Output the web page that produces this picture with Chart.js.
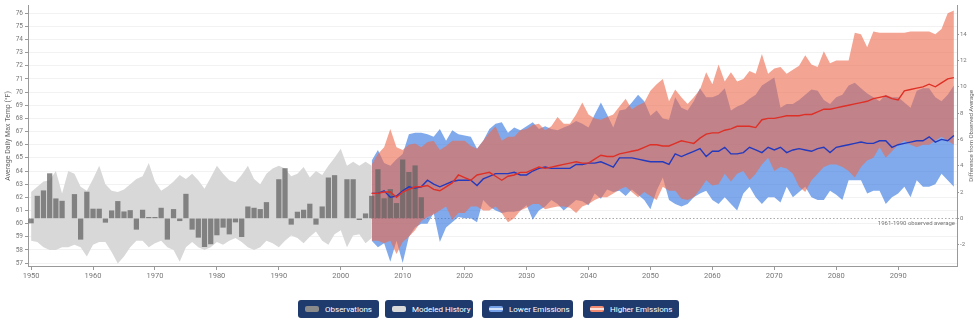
<!DOCTYPE html>
<html><head><meta charset="utf-8">
<script src="https://cdn.jsdelivr.net/npm/chart.js@4.4.1/dist/chart.umd.min.js"></script>
<style>
html,body{margin:0;padding:0;background:#fff;width:975px;height:325px;overflow:hidden;font-family:Roboto,"Liberation Sans",sans-serif;}
#wrap{position:absolute;left:0;top:0;width:975px;height:290px;}
.lg{position:absolute;top:300px;height:18px;background:#1f3a6c;border-radius:3px;display:flex;align-items:center;padding:0 6px 0 7px;color:#fff;font-size:8px;box-sizing:border-box;white-space:nowrap;}
.sw{width:14px;height:6px;border-radius:2px;margin-right:6px;flex:none;}
</style></head>
<body>
<div id="wrap"><canvas id="c" width="975" height="290"></canvas></div>
<div class="lg" style="left:298px;width:81px"><span class="sw" style="background:#8a8a8a"></span>Observations</div>
<div class="lg" style="left:385px;width:88px"><span class="sw" style="background:#d9d9d9"></span>Modeled History</div>
<div class="lg" style="left:482px;width:91px"><span class="sw" style="background:linear-gradient(to bottom,#74a0e8 0 35%,#d4e2fa 35% 65%,#74a0e8 65%)"></span>Lower Emissions</div>
<div class="lg" style="left:583px;width:96px"><span class="sw" style="background:linear-gradient(to bottom,#f08a70 0 35%,#fde0d6 35% 65%,#f08a70 65%)"></span>Higher Emissions</div>
<script>
// ---------- data ----------
const HIST_START = 1950;      // observations & modeled history start year
const FUTURE_START = 2005;    // projections start year
const OBS_AVG = 60.4;         // 1961-1990 observed average (°F)

// observed difference from 1961-1990 average (°F), 1950-2013
const obsDiff = [-0.35,1.69,2.1,3.4,1.49,1.31,null,1.82,-1.59,2.0,
  0.71,0.71,-0.3,0.58,1.29,0.5,0.6,-0.83,0.63,0.08,
  0.08,0.78,-1.59,0.68,-0.18,1.84,-0.83,-1.44,-2.15,-1.94,
  -1.26,-0.68,-1.19,-0.28,-1.39,0.88,0.78,0.68,1.21,null,
  2.95,3.79,-0.45,0.48,0.63,1.09,-0.45,0.88,3.08,3.26,
  null,2.95,2.95,-0.1,0.35,1.69,3.71,1.5,2.2,1.14,
  4.45,3.5,4.0,1.58];

// modeled history range 1950-2005 (°F)
const histUpper = [62.4,62.8,63.2,63.3,64.0,62.3,64.0,63.8,62.8,62.5,
  63.4,64.4,63.0,62.5,62.4,62.6,63.0,63.4,63.6,64.6,
  63.2,62.5,62.8,63.2,63.7,63.4,63.8,63.3,62.65,63.5,
  64.4,63.8,63.3,63.15,63.7,64.4,63.4,63.0,63.8,64.2,
  64.4,64.2,63.6,63.8,64.3,63.5,64.0,63.7,64.4,65.0,
  65.7,64.4,64.7,64.4,64.7,64.4];
const histLower = [58.7,58.6,58.2,58.0,58.0,58.2,58.2,58.4,58.2,57.5,
  58.4,58.6,58.6,57.85,56.97,57.5,58.2,58.7,58.7,58.2,
  58.5,58.7,58.2,58.0,57.1,58.2,58.6,58.2,58.0,58.2,
  58.6,58.4,58.7,58.9,58.6,58.2,58.0,58.2,58.7,58.5,
  58.2,58.7,59.1,58.9,58.5,59.0,59.4,58.7,58.4,59.2,
  59.5,58.2,59.1,59.2,58.5,58.9];

// higher emissions 2005-2099 (°F)
const highMedian = [62.3,62.3,62.4,62.4,62.0,62.4,62.6,62.8,62.8,62.9,
  62.6,62.5,62.8,63.1,63.7,63.5,63.3,63.7,63.8,63.9,
  63.6,63.3,63.6,63.7,63.9,63.9,64.1,64.3,64.2,64.3,
  64.4,64.5,64.6,64.7,64.6,64.6,64.9,65.2,65.1,65.1,
  65.3,65.4,65.5,65.6,65.8,66.0,66.0,65.9,65.9,66.1,
  66.3,66.2,66.1,66.5,66.8,66.9,66.9,67.1,67.2,67.4,
  67.4,67.4,67.3,67.9,68.0,68.0,68.1,68.2,68.2,68.2,
  68.3,68.3,68.5,68.7,68.7,68.8,68.9,69.0,69.1,69.2,
  69.3,69.5,69.6,69.7,69.5,69.4,70.1,70.2,70.3,70.4,
  70.6,70.4,70.7,71.0,71.1];
const highUpper = [64.5,65.3,65.8,67.2,65.8,65.6,66.0,66.1,65.8,66.2,
  66.3,65.6,65.9,66.3,66.3,66.3,65.9,65.7,66.3,66.9,
  67.4,66.3,66.6,66.6,67.1,67.2,67.5,67.6,67.1,67.4,
  68.1,67.6,67.6,68.3,69.2,68.3,68.0,67.9,68.1,68.3,
  68.9,69.5,68.7,69.0,69.2,70.1,70.6,71.0,69.3,70.2,
  69.6,69.1,69.6,70.2,71.5,70.6,72.1,70.8,71.5,70.8,
  71.0,71.6,71.4,72.9,71.4,71.8,71.9,71.4,71.7,72.0,
  72.8,72.1,71.9,73.1,72.2,72.4,72.4,72.4,74.5,74.4,
  73.4,74.6,74.5,74.5,74.5,74.5,74.5,74.6,74.6,74.6,
  74.6,74.4,74.8,76.0,76.2];
const highLower = [58.7,58.7,58.5,58.7,57.7,58.6,59.0,59.5,60.2,60.5,
  60.7,61.0,61.3,60.3,60.8,60.8,61.3,61.3,61.0,61.0,
  61.3,60.8,60.1,60.4,61.0,61.2,61.5,61.5,61.1,61.2,
  61.3,61.3,61.2,60.8,61.3,61.5,61.8,62.0,62.0,62.3,
  62.6,62.8,62.4,62.0,62.4,62.1,61.8,62.8,62.5,62.5,
  61.9,61.8,62.0,62.6,63.3,62.9,63.0,63.8,63.2,63.8,
  64.0,63.3,63.8,64.5,65.0,64.0,64.3,64.2,63.8,62.8,
  62.4,63.3,63.8,64.3,64.5,64.5,64.3,64.0,63.5,64.3,
  64.8,65.0,65.8,65.0,65.5,66.0,66.3,66.0,65.8,66.0,
  66.0,66.3,66.6,66.3,66.0];

// lower emissions 2005-2099 (°F)
const lowMedian = [62.3,62.3,62.5,62.0,62.1,62.5,62.8,62.7,62.8,63.3,
  63.0,62.8,63.0,63.2,63.3,63.3,63.3,62.9,63.4,63.6,
  63.8,63.8,63.8,63.9,63.7,63.7,64.0,64.2,64.3,64.2,
  64.2,64.2,64.2,64.5,64.5,64.6,64.6,64.7,64.5,64.3,
  65.0,65.0,65.0,64.9,64.8,64.7,64.7,64.7,64.5,65.3,
  65.1,65.3,65.5,65.7,65.1,65.5,65.5,65.8,65.3,65.3,
  65.4,65.8,65.6,65.4,65.8,65.6,65.8,65.4,65.6,65.7,
  65.6,65.5,65.7,65.8,65.4,65.8,65.9,66.0,66.1,66.2,
  66.1,66.1,66.3,66.3,65.8,66.0,66.1,66.2,66.3,66.3,
  66.6,66.2,66.4,66.3,66.7];
const lowUpper = [64.8,65.6,64.6,64.4,64.9,65.3,66.8,66.9,66.9,66.8,
  66.6,67.2,66.3,67.1,66.8,66.7,66.6,65.7,66.3,67.2,
  67.6,67.7,66.9,67.3,67.1,67.4,67.7,67.2,67.4,67.2,
  67.1,67.3,67.5,67.8,67.6,67.3,68.3,69.2,68.3,67.3,
  68.6,68.7,69.2,69.8,69.3,68.2,68.6,68.0,67.9,69.6,
  68.8,68.6,69.3,70.3,69.6,69.6,69.8,70.3,68.6,68.9,
  69.1,69.5,69.8,70.5,70.8,71.1,68.8,69.1,69.1,69.4,
  69.8,70.2,70.1,69.4,69.1,69.6,69.8,70.5,70.7,70.3,
  69.9,69.6,69.3,69.8,69.6,69.6,69.2,68.8,70.1,70.3,
  70.3,69.6,69.3,69.8,70.5];
const lowLower = [58.7,58.2,58.5,57.1,58.7,57.0,59.0,59.7,60.0,60.0,
  60.8,58.6,59.7,60.1,60.5,60.4,60.4,60.1,61.8,61.3,
  61.0,60.8,60.9,60.9,61.0,61.4,60.3,61.0,61.3,61.8,
  61.5,61.0,61.4,61.8,61.7,61.4,62.3,61.9,62.6,62.4,
  62.5,62.1,62.6,62.2,61.8,61.1,62.5,63.5,61.8,61.5,
  61.3,61.5,62.0,62.3,62.5,61.8,61.5,62.0,61.5,61.0,
  62.3,62.8,62.0,61.5,62.0,62.0,61.6,62.8,62.0,62.4,
  62.8,62.0,61.8,61.8,62.5,62.2,61.8,63.3,63.3,63.3,
  62.3,62.5,62.5,61.5,62.0,62.3,62.8,62.0,63.3,62.8,
  62.8,63.0,63.8,63.3,62.8];

// axis ticks
const xTickYears = [1950,1960,1970,1980,1990,2000,2010,2020,2030,2040,2050,2060,2070,2080,2090];
const leftTicks = [57,58,59,60,61,62,63,64,65,66,67,68,69,70,71,72,73,74,75,76];
const rightTicks = [-2,0,2,4,6,8,10,12,14];

// ---------- build ----------
const X_MIN = 1949.5, X_MAX = 2099.5, Y_MIN = 56.78, Y_MAX = 76.55;
const pts = (arr, start) => arr.map((v, i) => ({x: start + i, y: v}));

const lineBase = {type:'line', pointRadius:0, tension:0, yAxisID:'y'};
const datasets = [
  {...lineBase, label:'Higher median', data:pts(highMedian, FUTURE_START), borderColor:'rgb(222,48,38)', borderWidth:1.4, fill:false, order:0},
  {...lineBase, label:'Lower median', data:pts(lowMedian, FUTURE_START), borderColor:'rgb(36,58,190)', borderWidth:1.4, fill:false, order:1},
  {type:'bar', label:'Observations', data:pts(obsDiff, HIST_START), yAxisID:'y2', backgroundColor:'rgba(100,100,100,0.75)', barThickness:4.6, order:2},
  {...lineBase, label:'Higher upper', data:pts(highUpper, FUTURE_START), borderWidth:0, borderColor:'rgba(0,0,0,0)', backgroundColor:'rgba(237,103,73,0.6)', fill:'+1', order:3},
  {...lineBase, label:'Higher lower', data:pts(highLower, FUTURE_START), borderWidth:0, borderColor:'rgba(0,0,0,0)', fill:false, order:3},
  {...lineBase, label:'Lower upper', data:pts(lowUpper, FUTURE_START), borderWidth:0, borderColor:'rgba(0,0,0,0)', backgroundColor:'rgba(43,113,223,0.6)', fill:'+1', order:4},
  {...lineBase, label:'Lower lower', data:pts(lowLower, FUTURE_START), borderWidth:0, borderColor:'rgba(0,0,0,0)', fill:false, order:4},
  {...lineBase, label:'Hist upper', data:pts(histUpper, HIST_START), borderWidth:0, borderColor:'rgba(0,0,0,0)', backgroundColor:'rgb(216,216,216)', fill:'+1', order:5},
  {...lineBase, label:'Hist lower', data:pts(histLower, HIST_START), borderWidth:0, borderColor:'rgba(0,0,0,0)', fill:false, order:5}
];

const extras = {
  id:'extras',
  beforeDatasetsDraw(chart){
    const {ctx, chartArea:a, scales} = chart;
    const y = Math.round(scales.y.getPixelForValue(OBS_AVG)) + 0.5;
    ctx.save();
    ctx.strokeStyle = '#aaa'; ctx.lineWidth = 1; ctx.setLineDash([1.5,2]);
    ctx.beginPath(); ctx.moveTo(a.left, y); ctx.lineTo(a.right, y); ctx.stroke();
    ctx.restore();
  },
  afterDraw(chart){
    const {ctx, chartArea:a, scales} = chart;
    const y = scales.y.getPixelForValue(OBS_AVG);
    ctx.save();
    ctx.fillStyle = '#777'; ctx.font = '6px Roboto';
    ctx.textAlign = 'right'; ctx.textBaseline = 'middle';
    ctx.fillText('1961-1990 observed average', a.right - 2, y + 5);
    const cy = (a.top + a.bottom) / 2;
    ctx.fillStyle = '#666'; ctx.font = '7px Roboto'; ctx.textAlign = 'center';
    ctx.translate(8, cy); ctx.rotate(-Math.PI/2);
    ctx.fillText('Average Daily Max Temp (°F)', 0, 0);
    ctx.restore();
    ctx.save();
    ctx.fillStyle = '#666'; ctx.font = '6px Roboto'; ctx.textAlign = 'center'; ctx.textBaseline = 'middle';
    ctx.translate(971.5, cy); ctx.rotate(-Math.PI/2);
    ctx.fillText('Difference from Observed Average', 0, 0);
    ctx.restore();
  }
};

Chart.defaults.font.family = 'Roboto';
new Chart(document.getElementById('c'), {
  type:'line',
  data:{datasets},
  options:{
    responsive:false, animation:false, events:[],
    layout:{padding:{top:5, left:0, right:0, bottom:0}},
    plugins:{legend:{display:false}, tooltip:{enabled:false}},
    scales:{
      x:{type:'linear', min:X_MIN, max:X_MAX, offset:false,
        afterBuildTicks:s=>{s.ticks = xTickYears.map(v=>({value:v}));},
        afterFit:s=>{s.height = 24;},
        ticks:{callback:v=>String(v), font:{size:7.5}, color:'#777', padding:2, maxRotation:0, autoSkip:false},
        grid:{drawOnChartArea:false, offset:false, tickLength:4, color:'#999'},
        border:{color:'#999'}},
      y:{type:'linear', position:'left', min:Y_MIN, max:Y_MAX,
        afterBuildTicks:s=>{s.ticks = leftTicks.map(v=>({value:v}));},
        afterFit:s=>{s.width = 28;},
        ticks:{font:{size:6.5}, color:'#777', padding:2, autoSkip:false},
        grid:{color:'rgba(0,0,0,0.05)', tickColor:'#999', tickLength:3},
        border:{color:'#999'}},
      y2:{type:'linear', position:'right', min:Y_MIN-OBS_AVG, max:Y_MAX-OBS_AVG,
        afterBuildTicks:s=>{s.ticks = rightTicks.map(v=>({value:v}));},
        afterFit:s=>{s.width = 18;},
        ticks:{font:{size:6}, color:'#777', padding:1, autoSkip:false},
        grid:{drawOnChartArea:false, tickLength:2, color:'#999'},
        border:{color:'#999'}}
    }
  },
  plugins:[extras]
});
</script>
</body></html>
